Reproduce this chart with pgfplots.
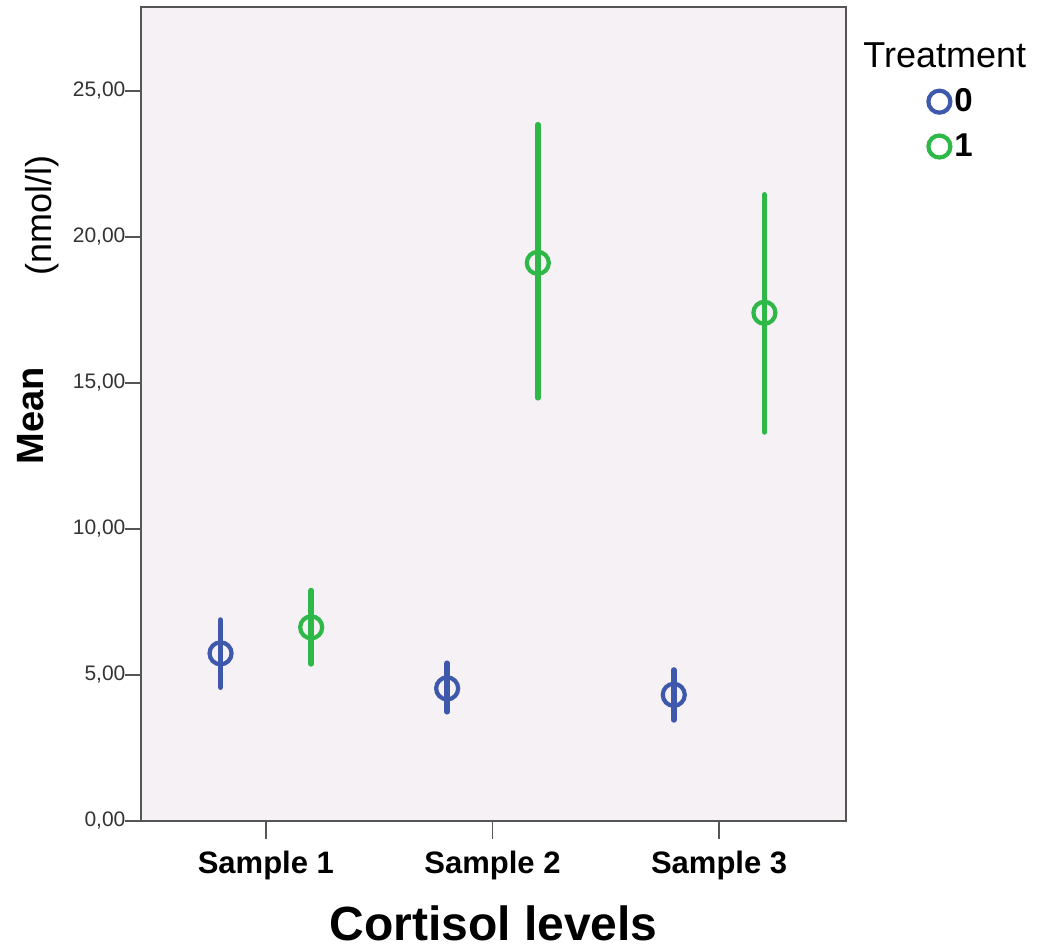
\documentclass[border=0pt]{standalone}
\usepackage{fontspec}
\setmainfont{Liberation Sans}
\usepackage{pgfplots}
\pgfplotsset{compat=1.18}
\definecolor{spssblue}{RGB}{62,88,172}
\definecolor{spssgreen}{RGB}{46,184,72}
\definecolor{plotbg}{RGB}{245,241,245}
\definecolor{frame}{RGB}{85,85,85}
\begin{document}
\begin{tikzpicture}
\begin{axis}[
  name=ax,
  width=352.5pt, height=407pt, scale only axis,
  xmin=0.449, xmax=3.56, ymin=0, ymax=27.87,
  axis background/.style={fill=plotbg},
  axis line style={frame, line width=1pt},
  xtick={1,2,3}, xticklabels={Sample 1,Sample 2,Sample 3},
  ytick={0,5,10,15,20,25},
  tick align=outside, tick pos=left,
  tick style={frame, line width=0.9pt},
  xtick style={/pgfplots/major tick length=9pt},
  ytick style={/pgfplots/major tick length=8pt},
  x tick label style={font=\fontsize{15.5}{17}\selectfont\bfseries, yshift=-7pt},
  y tick label style={font=\fontsize{10.5}{12}\selectfont, text=black!80},
  /pgf/number format/.cd, fixed, fixed zerofill, precision=2, use comma, assume math mode=true,
  /pgfplots/.cd,
  xlabel={Cortisol levels},
  xlabel style={font=\fontsize{24}{26}\selectfont\bfseries, yshift=-6pt},
  ylabel={{\fontsize{19}{20}\selectfont\bfseries Mean}\hspace{46pt}\raisebox{-4pt}{\fontsize{18}{20}\selectfont (nmol/l)}},
  ylabel style={at={(ticklabel cs:0.628)}, yshift=0pt},
  clip=false,
  legend style={draw=none, fill=none, at={(rel axis cs:1,0.91)}, anchor=north west,
    xshift=41pt, font=\fontsize{16.5}{18}\selectfont\bfseries, row sep=5.5pt,
    inner xsep=0pt,
    /tikz/every even column/.append style={column sep=0pt}},
  legend image code/.code={\draw[#1] plot coordinates {(0.25cm,0cm)};},
]
\addplot[only marks, mark=o, mark size=5.5pt, spssblue, line width=2.1pt,
  error bars/.cd, y dir=both, y explicit, error mark=none,
  error bar style={line width=2.8pt, line cap=round, spssblue}]
  coordinates {
  (0.8,5.74) += (0,1.14) -= (0,1.16)
  (1.8,4.54) += (0,0.86) -= (0,0.80)
  (2.8,4.32) += (0,0.85) -= (0,0.86)
};
\addlegendentry{0}
\addplot[only marks, mark=o, mark size=5.5pt, spssgreen, line width=2.1pt,
  error bars/.cd, y dir=both, y explicit, error mark=none,
  error bar style={line width=2.8pt, line cap=round, spssgreen}]
  coordinates {
  (1.2,6.63) += (0,1.26) -= (0,1.25)
  (2.2,19.11) += (0,4.73) -= (0,4.62)
  (3.2,17.40) += (0,4.04) -= (0,4.08)
};
\addlegendentry{1}
\node[anchor=base west, font=\fontsize{18}{20}\selectfont, inner sep=0pt]
  at ([xshift=8.5pt]rel axis cs:1,0.926) {Treatment};
\end{axis}
\pgfresetboundingbox
\path ([shift={(-70.5pt,-65.5pt)}]ax.south west) rectangle ([shift={(99.5pt,3.5pt)}]ax.north east);
\end{tikzpicture}
\end{document}
